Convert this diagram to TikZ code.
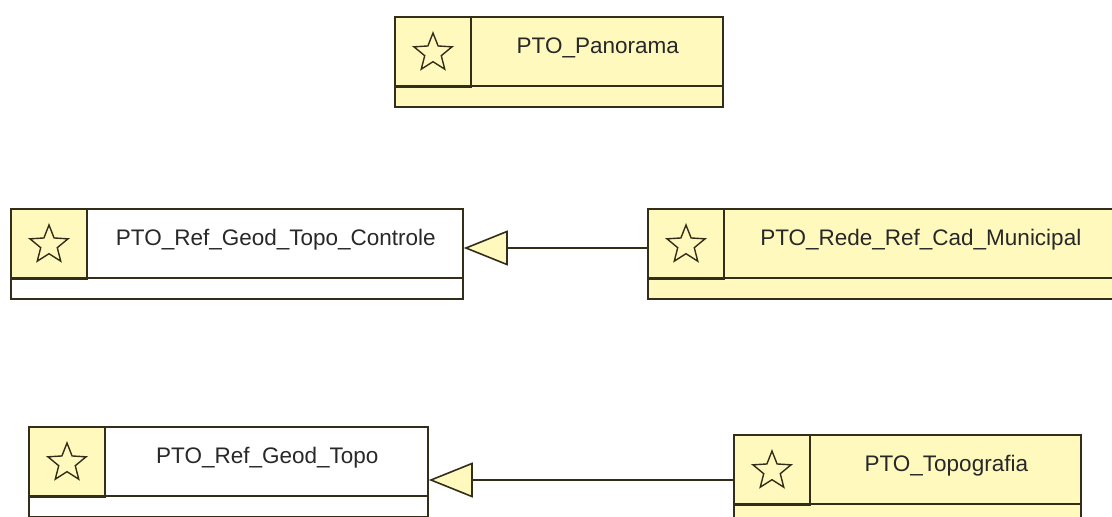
\documentclass[tikz,border=0pt]{standalone}
\usepackage{fontspec}
\setmainfont{Liberation Sans}
\usetikzlibrary{arrows.meta,shapes.geometric,calc}
\definecolor{umlyellow}{RGB}{255,249,190}
\definecolor{umlline}{RGB}{50,46,26}
\definecolor{umltext}{RGB}{40,40,40}
\tikzset{
  classbox/.style={draw=umlline, line width=1.6pt, fill=umlyellow, inner sep=0pt, minimum height=90pt},
  iconcell/.style={draw=umlline, line width=1.6pt, fill=umlyellow, inner sep=0pt, minimum width=76pt, minimum height=70pt, anchor=north west},
  staricon/.style={star, star points=5, star point ratio=2.3, minimum size=40pt, inner sep=0pt, draw=umlline, line width=1.4pt, fill=umlyellow},
  classname/.style={anchor=base, yshift=-1pt, text=umltext, font=\fontsize{22.5}{27}\selectfont, inner sep=0pt},
  divider/.style={draw=umlline, line width=1.6pt},
  inherit/.style={draw=umlline, line width=1.6pt, -{Triangle[length=44pt, width=35pt, fill=umlyellow]}}
}

\begin{document}
\begin{tikzpicture}[x=1pt, y=-1pt]
        \clip (0,0) rectangle (1112,517);
        \fill[white] (0,0) rectangle (1112,517);

        % top class
        \node[classbox, minimum width=328pt] (pano) at (559,62) {};
        \node[iconcell] (panoIcon) at (pano.north west) {};
        \node[staricon] (panoStar) at ([yshift=-1pt]panoIcon) {};
        \draw[divider] ([yshift=-70pt]pano.north west) -- ([yshift=-70pt]pano.north east);
        \node[classname] (panoText) at ($(panoIcon.east)!0.5!(pano.east |- panoIcon.east)$) {PTO\_Panorama};

        % second row
        \node[classbox, fill=white, minimum width=452pt] (controle) at (237,254) {};
        \node[iconcell] (controleIcon) at (controle.north west) {};
        \node[staricon] (controleStar) at ([yshift=-1pt]controleIcon) {};
        \draw[divider] ([yshift=-70pt]controle.north west) -- ([yshift=-70pt]controle.north east);
        \node[classname] (controleText) at ($(controleIcon.east)!0.5!(controle.east |- controleIcon.east)$) {PTO\_Ref\_Geod\_Topo\_Controle};

        \node[classbox, minimum width=468pt] (rede) at (882,254) {};
        \node[iconcell] (redeIcon) at (rede.north west) {};
        \node[staricon] (redeStar) at ([yshift=-1pt]redeIcon) {};
        \draw[divider] ([yshift=-70pt]rede.north west) -- ([yshift=-70pt]rede.north east);
        \node[classname] (redeText) at ($(redeIcon.east)!0.5!(rede.east |- redeIcon.east)$) {PTO\_Rede\_Ref\_Cad\_Municipal};

        % third row
        \node[classbox, fill=white, minimum width=399pt] (topo) at (228.5,472) {};
        \node[iconcell] (topoIcon) at (topo.north west) {};
        \node[staricon] (topoStar) at ([yshift=-1pt]topoIcon) {};
        \draw[divider] ([yshift=-70pt]topo.north west) -- ([yshift=-70pt]topo.north east);
        \node[classname] (topoText) at ($(topoIcon.east)!0.5!(topo.east |- topoIcon.east)$) {PTO\_Ref\_Geod\_Topo};

        \node[classbox, minimum width=347pt] (topografia) at (907.5,480) {};
        \node[iconcell] (topografiaIcon) at (topografia.north west) {};
        \node[staricon] (topografiaStar) at ([yshift=-1pt]topografiaIcon) {};
        \draw[divider] ([yshift=-70pt]topografia.north west) -- ([yshift=-70pt]topografia.north east);
        \node[classname] (topografiaText) at ($(topografiaIcon.east)!0.5!(topografia.east |- topografiaIcon.east)$) {PTO\_Topografia};

        \draw[inherit] ([yshift=6pt]rede.west) -- ([yshift=6pt]controle.east);
        \draw[inherit] (topografia.west) -- (topografia.west -| topo.east);
\end{tikzpicture}
\end{document}
